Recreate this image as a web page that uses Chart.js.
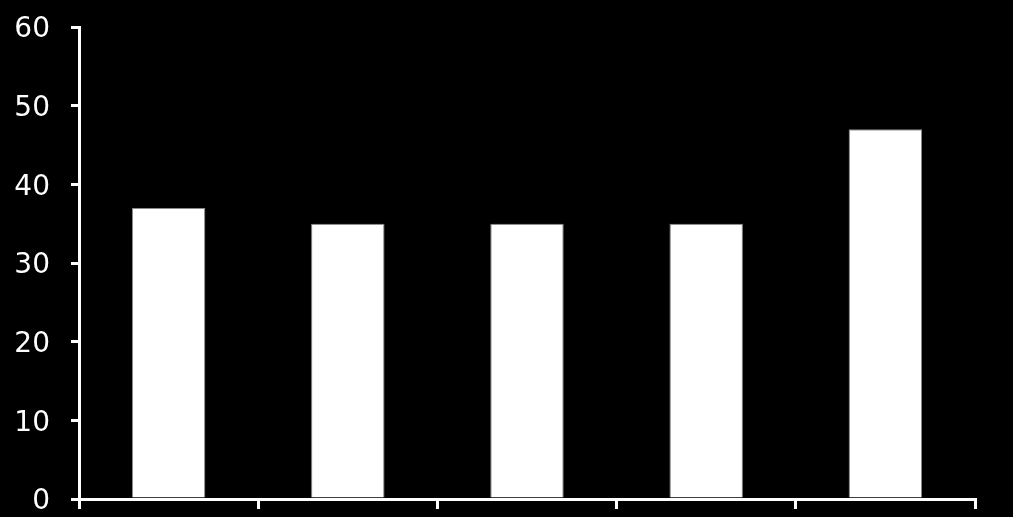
<!DOCTYPE html>
<html>
<head>
<meta charset="utf-8">
<script src="https://cdn.jsdelivr.net/npm/chart.js@4.4.1/dist/chart.umd.min.js"></script>
<style>
  html, body { margin: 0; padding: 0; background: #000; }
  #chart { display: block; }
</style>
</head>
<body>
<canvas id="chart" width="1013" height="517"></canvas>
<script>
// chart values
const categories = ['1', '2', '3', '4', '5'];
const values = [37, 35, 35, 35, 47];
const yTicks = [0, 10, 20, 30, 40, 50, 60];

const ctx = document.getElementById('chart').getContext('2d');

new Chart(ctx, {
    type: 'bar',
    data: {
        labels: categories,
        datasets: [{
            data: values,
            backgroundColor: '#ffffff',
            borderColor: '#8a8a8a',
            borderWidth: 1,
            categoryPercentage: 1,
            barPercentage: 0.41
        }]
    },
    options: {
        responsive: false,
        animation: false,
        devicePixelRatio: 1,
        layout: { padding: { top: 27, right: 38, left: 0, bottom: 0 } },
        plugins: {
            legend: { display: false },
            tooltip: { enabled: false }
        },
        scales: {
            x: {
                grid: {
                    offset: true,
                    drawOnChartArea: false,
                    drawTicks: true,
                    tickLength: 10,
                    color: '#ffffff',
                    lineWidth: 3
                },
                border: { color: '#ffffff', width: 3 },
                ticks: { display: false },
                afterFit: function(scale) {
                    scale.height = 18;
                    scale.paddingLeft = 0;
                    scale.paddingRight = 0;
                }
            },
            y: {
                min: 0,
                max: 60,
                afterBuildTicks: function(scale) {
                    scale.ticks = yTicks.map(v => ({ value: v }));
                },
                grid: {
                    drawOnChartArea: false,
                    drawTicks: true,
                    tickLength: 8,
                    color: '#ffffff',
                    lineWidth: 3
                },
                border: { color: '#ffffff', width: 3 },
                ticks: {
                    color: '#ffffff',
                    padding: 21,
                    labelOffset: 3,
                    font: { family: 'DejaVu Sans', size: 28 }
                },
                afterFit: function(scale) {
                    // keep the plot area where the reference has it
                    scale.width = 79;
                    scale.paddingTop = 0;
                    scale.paddingBottom = 0;
                }
            }
        }
    },
    plugins: [{
        id: 'bg',
        beforeDraw: function(chart) {
            const c = chart.ctx;
            c.save();
            c.fillStyle = '#000000';
            c.fillRect(0, 0, chart.width, chart.height);
            c.restore();
        }
    }]
});
</script>
</body>
</html>
